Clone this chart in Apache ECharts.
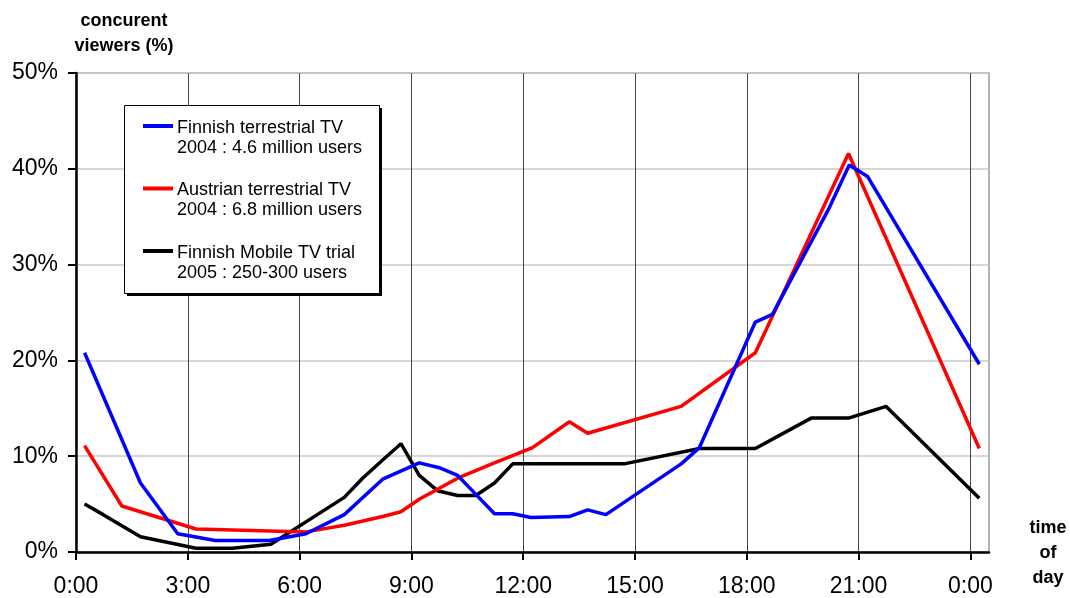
<!DOCTYPE html>
<html>
<head>
<meta charset="utf-8">
<script src="https://cdn.jsdelivr.net/npm/echarts@6/dist/echarts.min.js"></script>
<style>
html,body{margin:0;padding:0;background:#fff;}
#chart{width:1070px;height:598px;}
</style>
</head>
<body>
<div id="chart"></div>
<script>
// ---- data ----
const hoursFinnish = [0.23,1.73,2.73,3.74,5.19,6.17,7.2,8.23,9.21,9.75,10.24,11.23,11.72,12.21,13.24,13.73,14.22,16.24,16.73,18.23,18.69,20.21,20.75,21.24,24.24];
const valuesFinnish = [20.8,7.2,1.9,1.2,1.2,1.9,3.9,7.6,9.3,8.8,8.0,4.0,4.0,3.6,3.7,4.4,3.9,9.2,10.9,24.0,24.8,35.9,40.4,39.2,19.6];

const hoursAustrian = [0.23,1.23,3.22,6.17,7.2,8.23,8.72,9.21,10.24,11.23,12.25,13.24,13.73,16.24,18.23,20.73,24.24];
const valuesAustrian = [11.1,4.8,2.4,2.1,2.8,3.7,4.2,5.5,7.7,9.3,10.9,13.6,12.4,15.2,20.8,41.6,10.8];

const hoursMobile = [0.23,0.73,1.73,3.22,4.2,5.23,7.2,7.69,8.23,8.72,9.21,9.7,10.24,10.73,11.23,11.72,14.71,16.73,18.23,19.74,20.75,21.74,24.24];
const valuesMobile = [5.0,3.9,1.6,0.4,0.4,0.8,5.7,7.7,9.6,11.3,8.0,6.4,5.9,5.9,7.2,9.2,9.2,10.8,10.8,14.0,14.0,15.2,5.6];

const seriesNames = ['Finnish terrestrial TV', 'Austrian terrestrial TV', 'Finnish Mobile TV trial'];
const seriesSubtitles = ['2004 : 4.6 million users', '2004 : 6.8 million users', '2005 : 250-300 users'];
const seriesColors = ['#0000ff', '#ff0000', '#000000'];

const xTickHours = [0,3,6,9,12,15,18,21,24];
const yAxisTitle = 'concurent\nviewers (%)';
const xAxisTitle = 'time\nof\nday';

// ---- build ----
function zip(h, v) { return h.map((x, i) => [x, v[i]]); }
const dataSets = [zip(hoursFinnish, valuesFinnish), zip(hoursAustrian, valuesAustrian), zip(hoursMobile, valuesMobile)];

const FONT = "'Liberation Sans', Arial, sans-serif";
const chart = echarts.init(document.getElementById('chart'), null, {renderer: 'canvas'});

const legendLeft = 124, legendTop = 105, legendW = 255, legendH = 188;
const legendGraphics = [
  {type: 'rect', left: legendLeft + 3, top: legendTop + 3, z: 100,
   shape: {width: legendW, height: legendH}, style: {fill: '#000'}},
  {type: 'rect', left: legendLeft, top: legendTop, z: 101,
   shape: {width: legendW, height: legendH}, style: {fill: '#fff', stroke: '#000', lineWidth: 1}}
];
const rowY = [126, 188.5, 251];
seriesNames.forEach((name, i) => {
  legendGraphics.push({type: 'line', z: 102, shape: {x1: 143, y1: rowY[i], x2: 173, y2: rowY[i]},
    style: {stroke: seriesColors[i], lineWidth: 4}});
  legendGraphics.push({type: 'text', z: 102, x: 177, y: rowY[i] - 8,
    style: {text: name + '\n' + seriesSubtitles[i], fill: '#000', font: '18px ' + FONT,
      lineHeight: 20}});
});

legendGraphics.push({type: 'text', z: 102, x: 124, y: 9,
  style: {text: yAxisTitle, fill: '#000', font: 'bold 18px ' + FONT, align: 'center', textAlign: 'center', lineHeight: 25}});
legendGraphics.push({type: 'text', z: 102, x: 1048, y: 516,
  style: {text: xAxisTitle, fill: '#000', font: 'bold 18px ' + FONT, align: 'center', textAlign: 'center', lineHeight: 25}});

const option = {
  animation: false,
  backgroundColor: '#fff',
  grid: {left: 76, right: 81, top: 73, bottom: 45, show: true, borderColor: '#999', borderWidth: 1.5, backgroundColor: 'transparent'},
  xAxis: {
    type: 'value', min: 0, max: 24.5, interval: 3,
    axisLine: {show: true, onZero: false, lineStyle: {color: '#000', width: 2.5}},
    axisTick: {show: true, inside: false, length: 8, customValues: xTickHours, lineStyle: {color: '#000', width: 2}},
    splitLine: {show: true, lineStyle: {color: '#444', width: 1}},
    axisLabel: {
      margin: 23, color: '#000', fontSize: 23, fontFamily: FONT, customValues: xTickHours,
      formatter: v => xTickHours.indexOf(v) >= 0 ? ((v % 24) + ':00') : ''
    }
  },
  yAxis: {
    type: 'value', min: 0, max: 50, interval: 10,
    axisLine: {show: true, lineStyle: {color: '#000', width: 2.5}},
    axisTick: {show: true, inside: false, length: 8, lineStyle: {color: '#000', width: 2}},
    splitLine: {show: true, lineStyle: {color: '#c8c8c8', width: 1.5}},
    axisLabel: {margin: 18, color: '#000', fontSize: 23, fontFamily: FONT, formatter: '{value}%'}
  },
  series: dataSets.map((d, i) => ({
    name: seriesNames[i], type: 'line', data: d, showSymbol: false, symbol: 'none',
    lineStyle: {color: seriesColors[i], width: 3.5}, itemStyle: {color: seriesColors[i]}, z: 3 - i + 2
  })),
  graphic: legendGraphics
};
chart.setOption(option);
</script>
</body>
</html>
